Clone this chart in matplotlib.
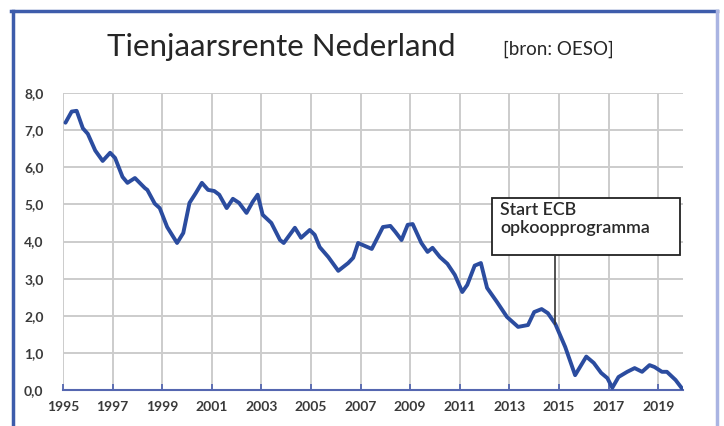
"""Tienjaarsrente Nederland: ten-year government bond yield, 1995-2019."""

import matplotlib.pyplot as plt
from matplotlib.patches import Rectangle

# decimal year, yield (%)
years = [1995.1, 1995.35, 1995.55, 1995.8, 1996.0, 1996.3, 1996.6, 1996.9,
         1997.1, 1997.4, 1997.6, 1997.9, 1998.3, 1998.4, 1998.7, 1998.9,
         1999.2, 1999.6, 1999.85, 2000.1, 2000.35, 2000.6, 2000.85, 2001.1,
         2001.3, 2001.6, 2001.85, 2002.1, 2002.4, 2002.65, 2002.85, 2003.05,
         2003.4, 2003.75, 2003.9, 2004.35, 2004.6, 2004.95, 2005.15, 2005.35,
         2005.7, 2006.1, 2006.5, 2006.7, 2006.9, 2007.45, 2007.9, 2008.2,
         2008.4, 2008.65, 2008.9, 2009.1, 2009.45, 2009.7, 2009.9, 2010.2,
         2010.5, 2010.8, 2011.1, 2011.3, 2011.6, 2011.85, 2012.1, 2012.5,
         2012.9, 2013.35, 2013.75, 2014.0, 2014.3, 2014.55, 2014.85, 2015.25,
         2015.65, 2016.1, 2016.4, 2016.7, 2016.95, 2017.15, 2017.4, 2017.75,
         2018.05, 2018.35, 2018.65, 2018.85, 2019.15, 2019.35, 2019.7, 2019.95]
rente = [7.20, 7.50, 7.52, 7.05, 6.90, 6.45, 6.17, 6.39,
         6.25, 5.74, 5.58, 5.71, 5.44, 5.39, 5.02, 4.90,
         4.39, 3.96, 4.23, 5.04, 5.30, 5.58, 5.39, 5.36,
         5.26, 4.90, 5.15, 5.04, 4.77, 5.07, 5.26, 4.72,
         4.50, 4.04, 3.96, 4.37, 4.10, 4.31, 4.18, 3.85,
         3.58, 3.21, 3.42, 3.56, 3.96, 3.80, 4.39, 4.42,
         4.26, 4.04, 4.45, 4.47, 3.96, 3.72, 3.83, 3.58,
         3.40, 3.10, 2.64, 2.83, 3.35, 3.42, 2.75, 2.37,
         1.97, 1.70, 1.75, 2.10, 2.18, 2.07, 1.78, 1.16,
         0.40, 0.90, 0.73, 0.46, 0.32, 0.06, 0.35, 0.49,
         0.59, 0.49, 0.67, 0.62, 0.49, 0.49, 0.27, 0.05]

x_ticks = list(range(1995, 2020, 2))
y_ticks = [0, 1, 2, 3, 4, 5, 6, 7, 8]

event_year, event_value = 2014.85, 1.78
event_label = "Start ECB\nopkoopprogramma"

LINE = "#2b4c9f"
TEXT = "#3a3a3a"

fig = plt.figure(figsize=(7.24, 4.26), dpi=100)
fig.patch.set_facecolor("white")

# outer frame (blue left/top, lavender right)
fig.add_artist(plt.Line2D([12.5 / 724, 12.5 / 724], [0, 1 - 10.5 / 426],
                          transform=fig.transFigure, color="#3d5cab", lw=2.5))
fig.add_artist(plt.Line2D([11 / 724, 717 / 724], [1 - 10.5 / 426, 1 - 10.5 / 426],
                          transform=fig.transFigure, color="#3d5cab", lw=2.5))
fig.add_artist(plt.Line2D([716.5 / 724, 716.5 / 724], [0, 1 - 10.5 / 426],
                          transform=fig.transFigure, color="#aab4e2", lw=2.5))

ax = fig.add_axes([63 / 724, 1 - 390 / 426, 620 / 724, 297 / 426])

ax.plot(years, rente, color=LINE, linewidth=2.8, solid_joinstyle="round",
        solid_capstyle="round", zorder=3)

ax.set_xlim(1995, 2020)
ax.set_ylim(0, 8)
ax.set_xticks(x_ticks)
ax.set_yticks(y_ticks)
ax.set_yticklabels([f"{v:.1f}".replace(".", ",") for v in y_ticks])
ax.grid(True, color="#cccccc", linewidth=1.4, zorder=0)
ax.set_axisbelow(True)

for side in ("left", "right", "top"):
    ax.spines[side].set_visible(False)
ax.spines["bottom"].set_color("#5567b0")
ax.spines["bottom"].set_linewidth(1.5)
ax.tick_params(axis="x", direction="in", length=4, color="#5567b0", width=1.3,
               pad=8, labelsize=10, labelcolor=TEXT)
ax.tick_params(axis="y", length=0, pad=14, labelsize=10, labelcolor=TEXT)
for lab in ax.get_xticklabels() + ax.get_yticklabels():
    lab.set_fontfamily("Lato")
    lab.set_fontweight("bold")

# annotation box + leader line
ax.add_patch(Rectangle((2012.3, 3.64), 7.58, 1.54, facecolor="white",
                       edgecolor="#222222", linewidth=1.3, zorder=4))
ax.plot([event_year, event_year], [event_value, 3.64], color="#333333",
        linewidth=1.2, zorder=4)
ax.text(2012.62, 5.06, event_label, ha="left", va="top", fontsize=12.8,
        family="Lato", fontweight="semibold", color="#2a2a2a",
        linespacing=1.15, zorder=5)

fig.text(107 / 724, 1 - 47 / 426, "Tienjaarsrente Nederland", ha="left",
         va="center", fontsize=22.5, family="Lato", color="#262626")
fig.text(503 / 724, 1 - 49 / 426, "[bron: OESO]", ha="left", va="center",
         fontsize=13.5, family="Lato", color="#262626")

fig.savefig("out.png", dpi=100, facecolor="white")
